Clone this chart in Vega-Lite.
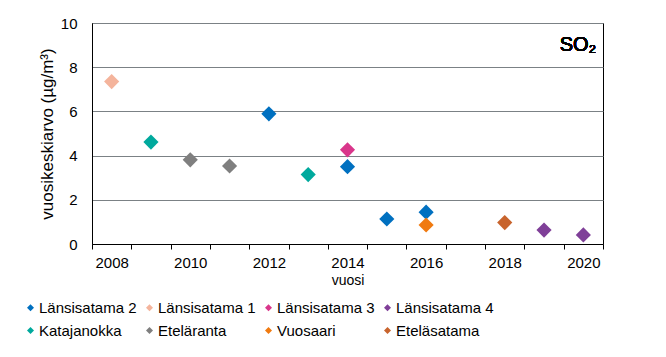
{
  "$schema": "https://vega.github.io/schema/vega-lite/v6.json",
  "width": 511,
  "height": 221,
  "autosize": {"type": "none"},
  "padding": {"left": 92, "top": 23, "right": 63, "bottom": 113},
  "background": "white",
  "config": {
    "font": "Liberation Sans",
    "view": {"stroke": "black", "strokeWidth": 1},
    "axis": {"labelFont": "Liberation Sans", "titleFont": "Liberation Sans", "labelColor": "black", "titleColor": "black", "titleFontWeight": "normal"}
  },
  "data": {
    "values": [
      {"asema": "Länsisatama 1", "vuosi": 2008, "arvo": 7.35},
      {"asema": "Katajanokka", "vuosi": 2009, "arvo": 4.61},
      {"asema": "Eteläranta", "vuosi": 2010, "arvo": 3.81},
      {"asema": "Eteläranta", "vuosi": 2011, "arvo": 3.53},
      {"asema": "Länsisatama 2", "vuosi": 2012, "arvo": 5.89},
      {"asema": "Katajanokka", "vuosi": 2013, "arvo": 3.14},
      {"asema": "Länsisatama 3", "vuosi": 2014, "arvo": 4.26},
      {"asema": "Länsisatama 2", "vuosi": 2014, "arvo": 3.50},
      {"asema": "Länsisatama 2", "vuosi": 2015, "arvo": 1.13},
      {"asema": "Länsisatama 2", "vuosi": 2016, "arvo": 1.44},
      {"asema": "Vuosaari", "vuosi": 2016, "arvo": 0.86},
      {"asema": "Eteläsatama", "vuosi": 2018, "arvo": 0.97},
      {"asema": "Länsisatama 4", "vuosi": 2019, "arvo": 0.63},
      {"asema": "Länsisatama 4", "vuosi": 2020, "arvo": 0.41}
    ]
  },
  "layer": [
    {
      "mark": {"type": "point", "shape": "diamond", "filled": true, "opacity": 1, "size": 230},
      "encoding": {
        "x": {
          "field": "vuosi", "type": "ordinal",
          "scale": {"type": "band", "domain": [2008,2009,2010,2011,2012,2013,2014,2015,2016,2017,2018,2019,2020], "paddingInner": 0, "paddingOuter": 0},
          "axis": {
            "title": "vuosi", "titleFontSize": 14, "titlePadding": 3,
            "labelAngle": 0, "labelFontSize": 15, "labelPadding": 6,
            "labelExpr": "datum.value % 2 == 0 ? datum.label : ''",
            "tickBand": "extent", "tickSize": 5, "tickColor": "black",
            "domainColor": "black", "grid": false
          }
        },
        "y": {
          "field": "arvo", "type": "quantitative",
          "scale": {"domain": [0, 10], "nice": false},
          "axis": {
            "title": "vuosikeskiarvo (µg/m³)", "titleFontSize": 17, "titlePadding": 4,
            "values": [0, 2, 4, 6, 8, 10], "labelFontSize": 15, "labelPadding": 15,
            "ticks": false, "domainColor": "black",
            "grid": true, "gridColor": "#7b8185", "gridWidth": 1
          }
        },
        "color": {
          "field": "asema", "type": "nominal",
          "scale": {
            "domain": ["Länsisatama 2", "Länsisatama 1", "Länsisatama 3", "Länsisatama 4", "Katajanokka", "Eteläranta", "Vuosaari", "Eteläsatama"],
            "range": ["#0070C0", "#F4B49C", "#D9368B", "#7F3F98", "#00A99D", "#7F7F7F", "#F07A10", "#C8642D"]
          },
          "legend": {
            "title": null, "orient": "none", "legendX": -69, "legendY": 277,
            "direction": "horizontal", "columns": 4, "gridAlign": "all",
            "symbolType": "diamond", "symbolSize": 49, "symbolStrokeWidth": 0,
            "labelFontSize": 15, "labelFont": "Liberation Sans", "labelColor": "black",
            "labelOffset": 1, "columnPadding": 5, "rowPadding": 7, "padding": 0, "labelLimit": 200
          }
        }
      }
    },
    {
      "mark": {"type": "text", "align": "right", "baseline": "alphabetic", "fontSize": 20, "fontWeight": "normal", "font": "Liberation Sans", "color": "black", "dx": 13},
      "encoding": {
        "x": {"datum": 2020, "type": "ordinal"},
        "y": {"datum": 8.75, "type": "quantitative"},
        "text": {"value": "SO₂"}
      }
    }
  ]
}
